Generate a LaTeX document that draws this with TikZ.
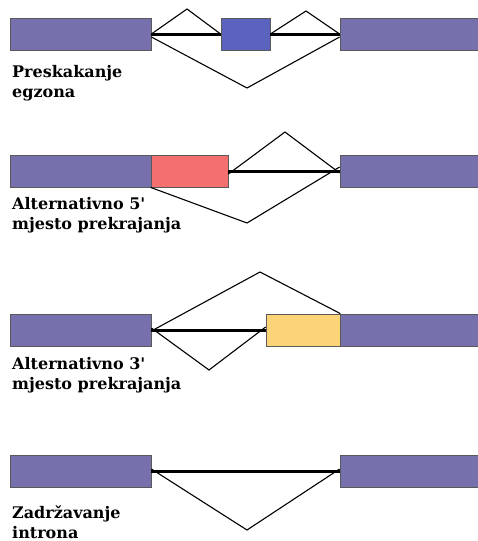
\documentclass[tikz,border=0pt]{standalone}
\usepackage{fontspec}
\setmainfont{DejaVu Serif}
\usetikzlibrary{positioning}

\definecolor{exonpurple}{RGB}{118,113,172}
\definecolor{exonblue}{RGB}{92,99,190}
\definecolor{exonred}{RGB}{244,112,112}
\definecolor{exonyellow}{RGB}{251,212,120}

\begin{document}
\begin{tikzpicture}[x=1pt, y=-1pt,
    exon/.style={draw=black!65, line width=0.8pt, minimum height=32pt, inner sep=0pt, fill=exonpurple},
    intron/.style={line width=3pt},
    splice/.style={line width=1.1pt, line join=miter},
    label/.style={anchor=base west, align=left, font=\bfseries\fontsize{16}{20}\selectfont, inner sep=0pt}]
    \useasboundingbox (0,0) rectangle (478,541);

    % Exon skipping
    \node[exon, minimum width=141pt] (A1) at (80.5,34) {};
    \node[exon, fill=exonblue, minimum width=49pt] (B1) at (245.5,34) {};
    \node[exon, minimum width=140pt] (C1) at (410,34) {};
    \coordinate (P1a) at (187,9);
    \coordinate (P1b) at (306,11);
    \coordinate (P1c) at (247,88);
    \draw[intron] (A1.east) -- (B1.west);
    \draw[intron] (B1.east) -- (C1.west);
    \draw[splice] (A1.east) -- (P1a) -- (B1.west);
    \draw[splice] (B1.east) -- (P1b) -- (C1.west);
    \draw[splice] ([yshift=-3pt]A1.east) -- (P1c) -- ([yshift=-3pt]C1.west);
    \node[label] (L1) at (12,97) {Preskakanje\\egzona};

    % Alternative 5' site
    \node[exon, minimum width=141pt] (A2) at (80.5,171) {};
    \node[exon, fill=exonred, minimum width=77pt] (R2) at (189.5,171) {};
    \node[exon, minimum width=140pt] (C2) at (410,171) {};
    \coordinate (P2a) at (285,132);
    \coordinate (P2b) at (247,223);
    \draw[intron] (R2.east) -- (C2.west);
    \draw[splice] ([yshift=-3pt]R2.east) -- (P2a) -- ([yshift=-2pt]C2.west);
    \draw[splice] (R2.south west) -- (P2b) -- ([yshift=4pt]C2.west);
    \node[label] (L2) at (12,229) {Alternativno 5\textquotesingle\\mjesto prekrajanja};

    % Alternative 3' site
    \node[exon, minimum width=141pt] (A3) at (80.5,330) {};
    \node[exon, fill=exonyellow, minimum width=74pt] (Y3) at (303,330) {};
    \node[exon, minimum width=138pt] (C3) at (409,330) {};
    \coordinate (P3a) at (260,272);
    \coordinate (P3b) at (209,370);
    \draw[intron] (A3.east) -- (Y3.west);
    \draw[splice] ([yshift=-1pt]A3.east) -- (P3a) -- (Y3.north east);
    \draw[splice] ([yshift=2pt]A3.east) -- (P3b) -- ([yshift=3pt]Y3.west);
    \node[label] (L3) at (12,389) {Alternativno 3\textquotesingle\\mjesto prekrajanja};

    % Intron retention
    \node[exon, minimum width=141pt] (A4) at (80.5,471) {};
    \node[exon, minimum width=140pt] (C4) at (410,471) {};
    \coordinate (P4) at (247,530);
    \draw[intron] (A4.east) -- (C4.west);
    \draw[splice] ([yshift=2pt]A4.east) -- (P4) -- ([yshift=2pt]C4.west);
    \node[label] (L4) at (12,538) {Zadržavanje\\introna};
\end{tikzpicture}
\end{document}
